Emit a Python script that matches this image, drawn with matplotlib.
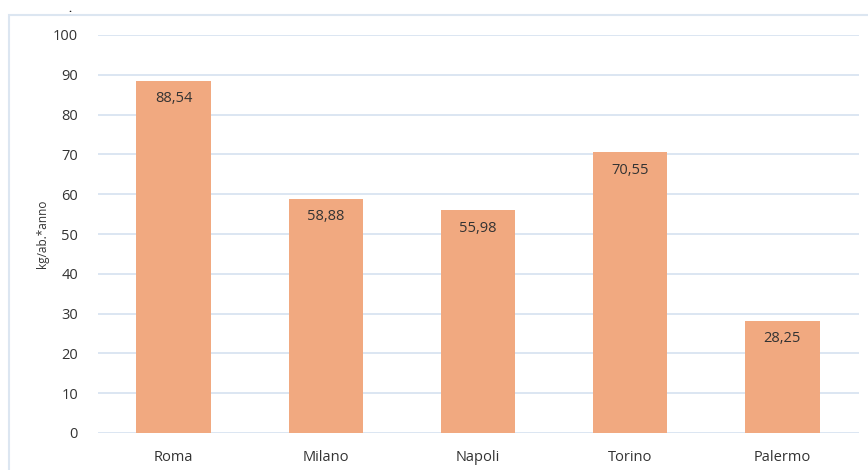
import matplotlib
matplotlib.use("Agg")
import matplotlib.pyplot as plt
from matplotlib.patches import Rectangle

cities = ["Roma", "Milano", "Napoli", "Torino", "Palermo"]
values = [88.54, 58.88, 55.98, 70.55, 28.25]
yticks = [0, 10, 20, 30, 40, 50, 60, 70, 80, 90, 100]

bar_color = "#F1A980"
grid_color = "#D5E2F0"
text_color = "#333333"

plt.rcParams["font.family"] = ["Open Sans", "DejaVu Sans"]

fig = plt.figure(figsize=(8.68, 4.70), dpi=100, facecolor="white")
ax = fig.add_axes([97.5 / 868, 1 - 433 / 470, 761 / 868, 398 / 470])

# outer frame of the chart
fig.patches.append(Rectangle((9 / 868, -0.05), 1.0, 1 - 15 / 470 + 0.05,
                             transform=fig.transFigure, fill=False,
                             edgecolor="#DCE6F1", lw=1.5))
fig.text(70 / 868, 1 - 12.5 / 470, ".", fontsize=7.5, fontweight="bold",
         color="#111111", ha="center", va="baseline")

x = range(len(cities))
bars = ax.bar(x, values, width=0.49, color=bar_color, zorder=2)
for b, v in zip(bars, values):
    ax.text(b.get_x() + b.get_width() / 2, v - 4.5,
            f"{v:.2f}".replace(".", ","), ha="center", va="center",
            fontsize=10.5, color=text_color, zorder=3)

ax.set_xlim(-0.5, len(cities) - 0.5)
ax.set_ylim(0, 100)
ax.set_yticks(yticks)
ax.set_xticks(list(x))
ax.set_xticklabels(cities)
ax.yaxis.grid(True, color=grid_color, lw=1.2, zorder=0)
ax.set_axisbelow(True)
for s in ax.spines.values():
    s.set_visible(False)
ax.tick_params(length=0, labelsize=10.5, colors=text_color)
ax.tick_params(axis="y", pad=14)
ax.tick_params(axis="x", pad=12)
ax.set_ylabel("kg/ab.*anno", fontsize=8.5, color=text_color, labelpad=3)

fig.savefig("out.png", dpi=100, facecolor="white")
